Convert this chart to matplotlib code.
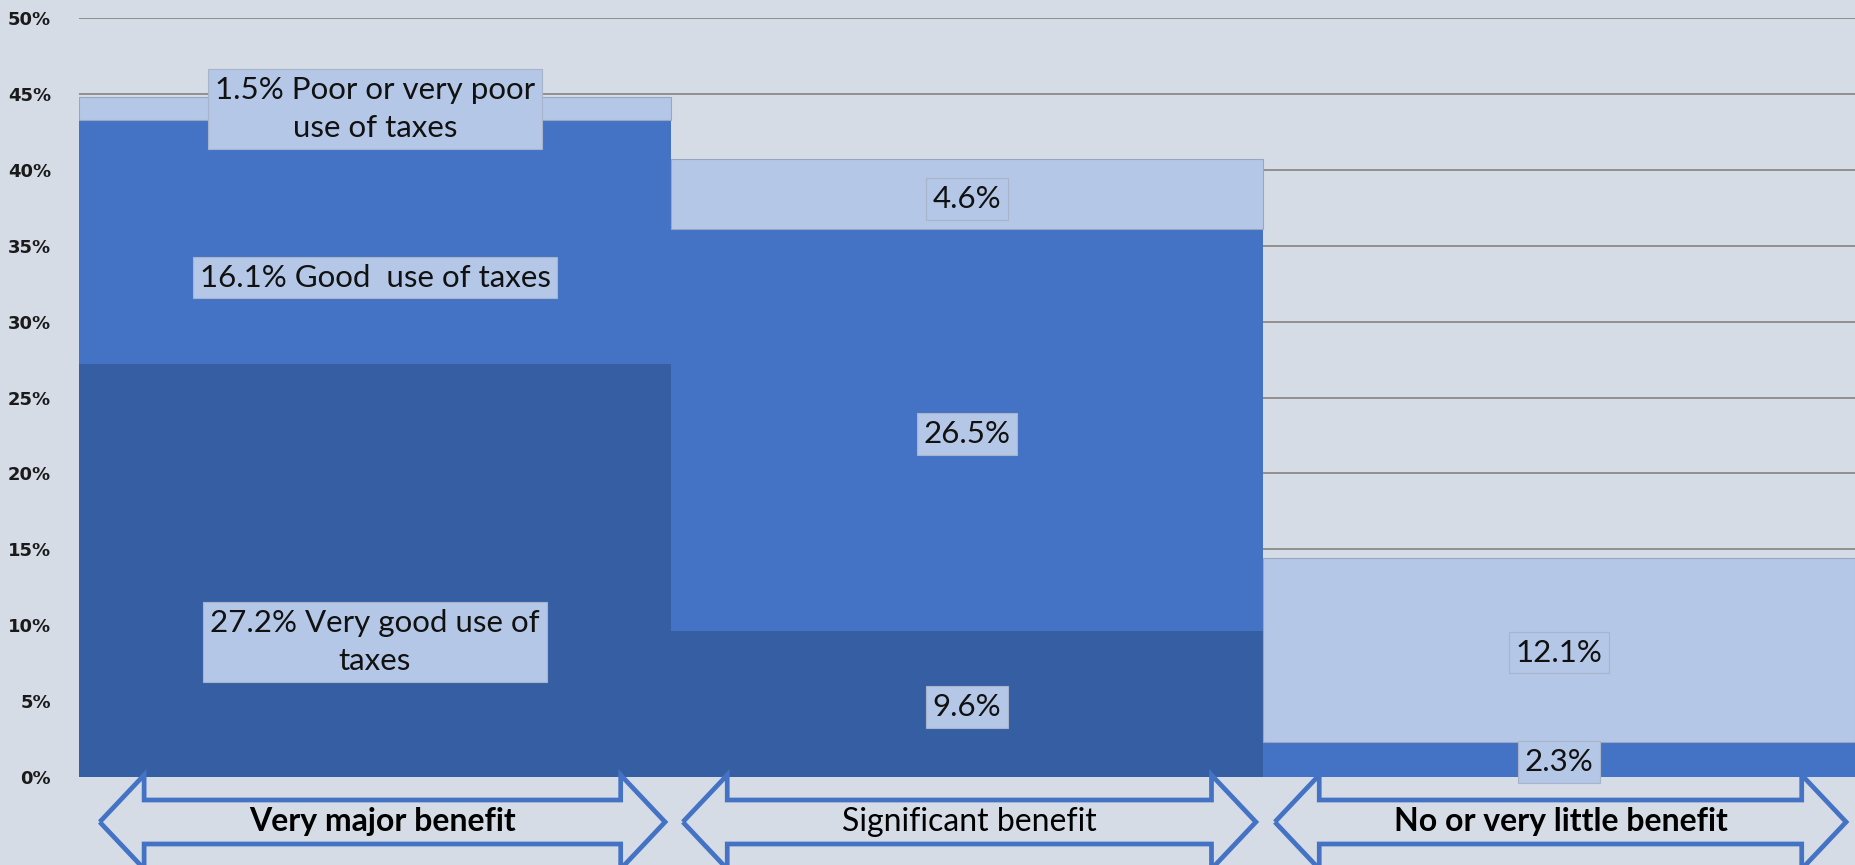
import matplotlib
matplotlib.use('Agg')
import matplotlib.pyplot as plt
from matplotlib.patches import Polygon
import matplotlib.transforms as mtransforms

# ---- data ----
categories = ["Very major benefit", "Significant benefit", "No or very little benefit"]
cat_bold = [True, False, True]
very_good = [27.2, 9.6, 0.0]
good = [16.1, 26.5, 2.3]
poor = [1.5, 4.6, 12.1]
yticks = [0, 5, 10, 15, 20, 25, 30, 35, 40, 45, 50]
ytick_labels = [f"{t}%" for t in yticks]

# label texts & positions
label_texts = [
    f"{poor[0]}% Poor or very poor\nuse of taxes",
    f"{good[0]}% Good  use of taxes",
    f"{very_good[0]}% Very good use of\ntaxes",
    f"{poor[1]}%",
    f"{good[1]}%",
    f"{very_good[1]}%",
    f"{poor[2]}%",
    f"{good[2]}%",
]
label_x = [0, 0, 0, 1, 1, 1, 2, 2]
label_y = [44.0, 32.9, 8.9, 38.1, 22.6, 4.6, 8.2, 1.0]

BG = '#D6DCE5'
DARK = '#365FA3'
MID = '#4472C4'
LIGHT = '#B4C7E7'

W, H = 1855, 865
fig = plt.figure(figsize=(W / 100, H / 100), dpi=100, facecolor=BG)
ax = fig.add_axes([79 / W, 88 / H, 1 - 79 / W, (777 - 18) / H])
ax.set_facecolor(BG)

x = list(range(len(categories)))
ax.bar(x, very_good, width=1.0, color=DARK, zorder=2)
ax.bar(x, good, width=1.0, bottom=very_good, color=MID, zorder=2)
bottom2 = [a + b for a, b in zip(very_good, good)]
ax.bar(x, poor, width=1.0, bottom=bottom2, color=LIGHT, edgecolor='#98A6C0',
       linewidth=0.8, zorder=2)

ax.set_xlim(-0.5, 2.5)
ax.set_ylim(0, 50)
ax.set_yticks(yticks)
ax.set_yticklabels(ytick_labels, fontsize=13, fontweight='bold',
                   family='DejaVu Sans', color='#1a1a1a')
ax.set_xticks([])
ax.tick_params(axis='y', length=0, pad=20)
ax.yaxis.grid(True, color='#8a8a8a', linewidth=1.3)
ax.set_axisbelow(True)
for s in ax.spines.values():
    s.set_visible(False)

for lx, ly, t in zip(label_x, label_y, label_texts):
    ax.text(lx, ly, t, ha='center', va='center', fontsize=22.5, family='Lato',
            color='#111111', linespacing=1.45, zorder=5, clip_on=False,
            bbox=dict(boxstyle='square,pad=0.22', facecolor=LIGHT,
                      edgecolor='#A8B4CA', linewidth=0.8))

# ---- double-headed arrows below the axis ----
trans = mtransforms.blended_transform_factory(ax.transData, fig.transFigure)
hw_left = [0.465, 0.48, 0.48]
hw_right = [0.49, 0.488, 0.485]
hl = 0.075
y_tip = (H - 822) / H
y_st = (H - 800) / H
y_sb = (H - 844) / H
y_ht = (H - 775) / H
y_hb = (H - 869) / H
for i, (c, bold) in enumerate(zip(categories, cat_bold)):
    l = i - hw_left[i]
    r = i + hw_right[i]
    pts = [(l, y_tip), (l + hl, y_ht), (l + hl, y_st), (r - hl, y_st),
           (r - hl, y_ht), (r, y_tip), (r - hl, y_hb), (r - hl, y_sb),
           (l + hl, y_sb), (l + hl, y_hb)]
    poly = Polygon(pts, closed=True, transform=trans, facecolor='none',
                   edgecolor=MID, linewidth=3.4, clip_on=False, zorder=6,
                   joinstyle='miter')
    fig.add_artist(poly)
    fig.text((l + r) / 2, y_tip, c, transform=trans, ha='center', va='center',
             fontsize=23, family='Lato',
             fontweight='bold' if bold else 'normal', color='#000000')

fig.savefig('out.png', dpi=100, facecolor=BG)
